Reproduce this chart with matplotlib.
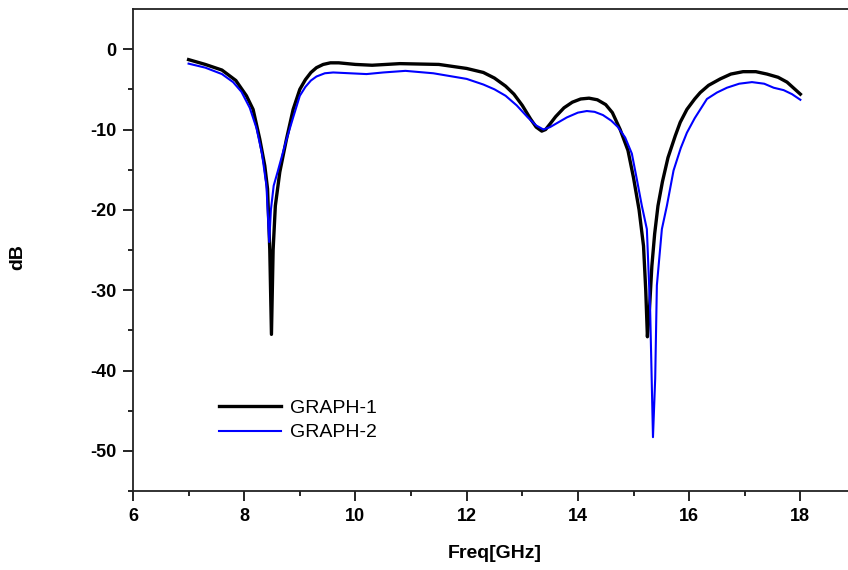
import matplotlib
matplotlib.use("Agg")
import matplotlib.pyplot as plt
import numpy as np

# GRAPH-1 (black)
freq_1 = [7.0, 7.3, 7.6, 7.85, 8.04, 8.16, 8.28, 8.37, 8.42, 8.46, 8.49, 8.52, 8.56, 8.64,
          8.76, 8.88, 9.0, 9.1, 9.2, 9.3, 9.42, 9.55, 9.7, 10.0, 10.3, 10.8, 11.5, 12.0,
          12.3, 12.5, 12.7, 12.85, 13.0, 13.15, 13.25, 13.35, 13.42, 13.5, 13.6, 13.75,
          13.9, 14.05, 14.2, 14.35, 14.5, 14.62, 14.76, 14.9, 15.0, 15.1, 15.18, 15.22,
          15.25, 15.29, 15.33, 15.38, 15.44, 15.52, 15.62, 15.75, 15.84, 15.96, 16.1,
          16.2, 16.35, 16.56, 16.75, 16.97, 17.2, 17.4, 17.6, 17.76, 18.0]
db_1 = [-1.3, -1.9, -2.6, -3.9, -5.8, -7.5, -11.2, -14.5, -17.4, -25.0, -35.5, -25.0, -19.5, -15.3,
        -11.2, -7.5, -5.0, -3.8, -2.9, -2.3, -1.9, -1.7, -1.7, -1.9, -2.0, -1.8, -1.9, -2.4,
        -2.9, -3.6, -4.6, -5.6, -7.0, -8.7, -9.7, -10.2, -10.0, -9.3, -8.4, -7.3,
        -6.6, -6.2, -6.1, -6.3, -6.9, -7.9, -10.0, -12.6, -16.0, -20.0, -24.5, -30.0,
        -35.8, -32.0, -27.0, -23.0, -19.5, -16.5, -13.5, -10.8, -9.1, -7.5, -6.2,
        -5.4, -4.5, -3.7, -3.1, -2.8, -2.8, -3.1, -3.5, -4.1, -5.6]

# GRAPH-2 (blue)
freq_2 = [7.0, 7.3, 7.6, 7.8, 7.95, 8.1, 8.22, 8.32, 8.4, 8.45, 8.48, 8.53, 8.6, 8.75,
          8.88, 9.0, 9.1, 9.2, 9.3, 9.45, 9.6, 9.9, 10.2, 10.5, 10.9, 11.4, 12.0, 12.3,
          12.5, 12.7, 12.9, 13.1, 13.25, 13.38, 13.5, 13.65, 13.8, 14.0, 14.16, 14.3,
          14.45, 14.6, 14.72, 14.85, 14.97, 15.06, 15.15, 15.24, 15.3, 15.35, 15.39, 15.42,
          15.51, 15.6, 15.72, 15.85, 15.96, 16.1, 16.32, 16.5, 16.68, 16.9, 17.13, 17.35,
          17.52, 17.7, 17.85, 18.0]
db_2 = [-1.8, -2.3, -3.1, -4.1, -5.3, -7.3, -9.8, -13.0, -17.0, -24.0, -20.0, -17.0, -15.3, -11.5,
        -8.5, -5.8, -4.7, -3.9, -3.4, -3.0, -2.9, -3.0, -3.1, -2.9, -2.7, -3.0, -3.7, -4.4,
        -5.0, -5.8, -7.0, -8.5, -9.5, -10.0, -9.7, -9.1, -8.5, -7.9, -7.7, -7.8,
        -8.2, -8.9, -9.7, -11.0, -13.0, -16.2, -19.5, -22.4, -32.7, -48.3, -41.0, -29.4,
        -22.4, -19.5, -15.1, -12.3, -10.4, -8.6, -6.2, -5.4, -4.8, -4.3, -4.1, -4.3,
        -4.8, -5.1, -5.6, -6.3]

xticks = [6, 8, 10, 12, 14, 16, 18]
yticks = [0, -10, -20, -30, -40, -50]

plt.rcParams["font.family"] = ["Liberation Sans", "DejaVu Sans"]
plt.rcParams["axes.unicode_minus"] = False

fig = plt.figure(figsize=(8.48, 5.70), dpi=100)
ax = fig.add_axes([0.1568, 0.1386, 0.8526, 0.8456])

ax.plot(freq_1, db_1, color="#000000", lw=2.4, label="GRAPH-1", solid_joinstyle="round")
ax.plot(freq_2, db_2, color="#0000ff", lw=1.5, label="GRAPH-2", solid_joinstyle="round")

ax.set_xlim(6, 19)
ax.set_ylim(-55, 5)
ax.set_xticks(xticks)
ax.set_yticks(yticks)
ax.set_xticks(np.arange(7, 19, 2), minor=True)
ax.set_yticks(np.arange(-55, 5, 10), minor=True)
ax.tick_params(which="major", direction="out", length=7, width=1.2, labelsize=13, pad=5)
ax.tick_params(which="minor", direction="out", length=3.6, width=1.2)
for lab in ax.get_xticklabels() + ax.get_yticklabels():
    lab.set_fontweight("bold")
for s in ax.spines.values():
    s.set_linewidth(1.3)
    s.set_color("#222222")

ax.set_xlabel("Freq[GHz]", fontsize=14, fontweight="bold")
ax.set_ylabel("dB", fontsize=14, fontweight="bold")
ax.xaxis.set_label_coords(0.5, -0.112)
ax.yaxis.set_label_coords(-0.147, 0.485)

ax.legend(loc="upper left", bbox_to_anchor=(0.119, 0.19), frameon=False, fontsize=14,
          handlelength=3.2, handletextpad=0.45, labelspacing=0.35, borderpad=0, borderaxespad=0)

plt.savefig("out.png", dpi=100)
plt.close(fig)
